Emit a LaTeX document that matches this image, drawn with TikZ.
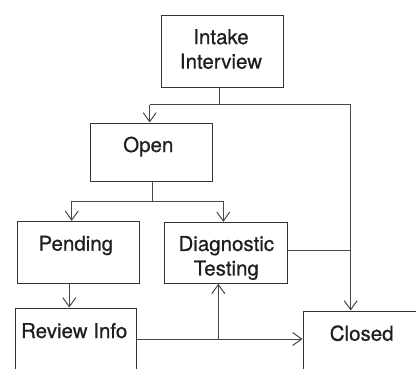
\documentclass[tikz,border=0pt]{standalone}
\usepackage{fontspec}
\setmainfont[FakeBold=0.6]{TeX Gyre Heros}
\usetikzlibrary{arrows.meta}
\begin{document}
\begin{tikzpicture}[x=1pt,y=-1pt,
  box/.style={draw=black!80, line width=1pt, rectangle, inner sep=0pt},
  txt/.style={inner sep=0pt, align=center, text=black!88, font=\fontsize{20.5}{24.5}\selectfont},
  conn/.style={line width=1pt, draw=black!72},
  arr/.style={conn, -{Straight Barb[length=9pt,width=13pt,line width=1pt]}}]
\useasboundingbox (0,0) rectangle (416,368);
% boxes
\node[box, minimum width=122pt, minimum height=72pt] (intake) at (222,51) {};
\node[box, minimum width=122pt, minimum height=58pt] (open) at (151,152) {};
\node[box, minimum width=122pt, minimum height=61.7pt] (pending) at (78.3,252.2) {};
\node[box, minimum width=122.6pt, minimum height=61pt] (diag) at (226,252.8) {};
\node[box, minimum width=121.3pt, minimum height=80pt] (review) at (76.3,348) {};
\node[box, minimum width=122pt, minimum height=80pt] (closed) at (364,351) {};
% texts
\node[txt, anchor=north] (intaket) at (221,29) {Intake\\Interview};
\node[txt, anchor=base] (opent) at (148.3,152) {Open};
\node[txt, anchor=base] (pendingt) at (75.8,250.7) {Pending};
\node[txt, anchor=north] (diagt) at (226.3,235.8) {Diagnostic\\Testing};
\node[txt, anchor=base] (reviewt) at (74.2,338) {Review Info};
\node[txt, anchor=base] (closedt) at (361.7,340.7) {Closed};
% junctions
\coordinate (j1) at (219,104.5);
\coordinate (j1l) at (149.7,104.5);
\coordinate (j1r) at (350.7,104.5);
\coordinate (j2) at (152.3,201.3);
\coordinate (j2l) at (71.7,201.3);
\coordinate (j2r) at (223.3,201.3);
\coordinate (jp) at (69.3,283);
\coordinate (jd) at (350.7,250.7);
\coordinate (jr) at (137,339);
\coordinate (jb) at (218.3,339);
% connectors
\draw[conn] (intake.south -| j1) -- (j1);
\draw[conn] (j1l) -- (j1r);
\draw[arr] (j1l) -- (open.north -| j1l);
\draw[arr] (j1r) -- (closed.north -| j1r);
\draw[conn] (open.south -| j2) -- (j2);
\draw[conn] (j2l) -- (j2r);
\draw[arr] (j2l) -- (pending.north -| j2l);
\draw[arr] (j2r) -- (diag.north -| j2r);
\draw[arr] (pending.south -| jp) -- (review.north -| jp);
\draw[conn] (diag.east |- jd) -- (jd);
\draw[arr] (review.east |- jr) -- (closed.west |- jr);
\draw[arr] (jb) -- (diag.south -| jb);
\end{tikzpicture}
\end{document}
